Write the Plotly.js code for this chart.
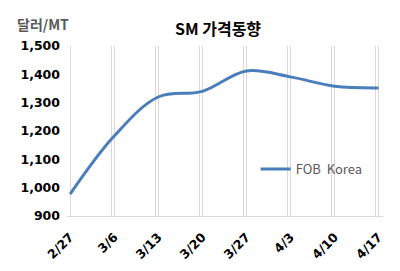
<!DOCTYPE html>
<html><head><meta charset="utf-8">
<script src="https://cdn.plot.ly/plotly-3.0.1.min.js"></script>
<style>html,body{margin:0;padding:0;background:#fff}#c{width:400px;height:271px}</style>
</head><body><div id="c"></div>
<script>
const categories = ["2/27","3/6","3/13","3/20","3/27","4/3","4/10","4/17"];
const fobKorea = [977, 1182, 1320, 1340, 1412, 1391, 1358, 1352];
const seriesName = "FOB\u00a0 Korea";
const chartTitle = "SM 가격동향";
const unitLabel = "달러/MT";

const idx = categories.map((_, i) => i);
const fontKR = '"Noto Sans CJK KR", "Noto Sans", sans-serif';
const fontNum = '"DejaVu Sans", sans-serif';
const gridCol = '#d9d9d9';

const traces = [
  {x: idx, y: fobKorea, type: 'scatter', mode: 'lines', name: seriesName,
   line: {color: '#4a7ebb', width: 3, shape: 'spline', smoothing: 1}},
  {x: idx, y: fobKorea, xaxis: 'x2', type: 'scatter', mode: 'none', showlegend: false, hoverinfo: 'skip'}
];

const layout = {
  width: 400, height: 271,
  margin: {l: 67, r: 17, t: 46, b: 55},
  paper_bgcolor: '#fff', plot_bgcolor: '#fff',
  title: {text: '<b>' + chartTitle + '</b>', x: 0.545, xref: 'container', xanchor: 'center',
          y: 0.89, yref: 'container', yanchor: 'middle',
          font: {family: fontKR, size: 16, color: '#000'}},
  xaxis: {range: [-0.07, 7.1], tickvals: idx, ticktext: categories, tickangle: -45,
          showgrid: true, gridcolor: gridCol, gridwidth: 1, zeroline: false,
          showline: true, linecolor: gridCol, ticks: '', ticklabelstandoff: 8,
          tickfont: {family: fontNum, size: 12.5, color: '#000', weight: 'bold'}},
  xaxis2: {overlaying: 'x', range: [0, 7.17], tickvals: idx, showticklabels: false,
           showgrid: true, gridcolor: gridCol, gridwidth: 1, zeroline: false, ticks: ''},
  yaxis: {range: [900, 1500], dtick: 100, tickformat: ',', showgrid: false, zeroline: false,
          showline: false, ticks: '', ticklabelstandoff: 6,
          tickfont: {family: fontNum, size: 12.5, color: '#000', weight: 'bold'}},
  legend: {x: 0.597, xanchor: 'left', y: 0.276, yanchor: 'middle', bgcolor: 'rgba(0,0,0,0)',
           itemwidth: 30, font: {family: fontKR, size: 13, color: '#595959'}},
  showlegend: true,
  annotations: [{text: '<b>' + unitLabel + '</b>', xref: 'paper', yref: 'paper', x: -0.165, y: 1.13,
                 xanchor: 'left', yanchor: 'middle', showarrow: false,
                 font: {family: fontKR, size: 14, color: '#595959'}}]
};
Plotly.newPlot('c', traces, layout, {displayModeBar: false, staticPlot: true});
</script></body></html>
